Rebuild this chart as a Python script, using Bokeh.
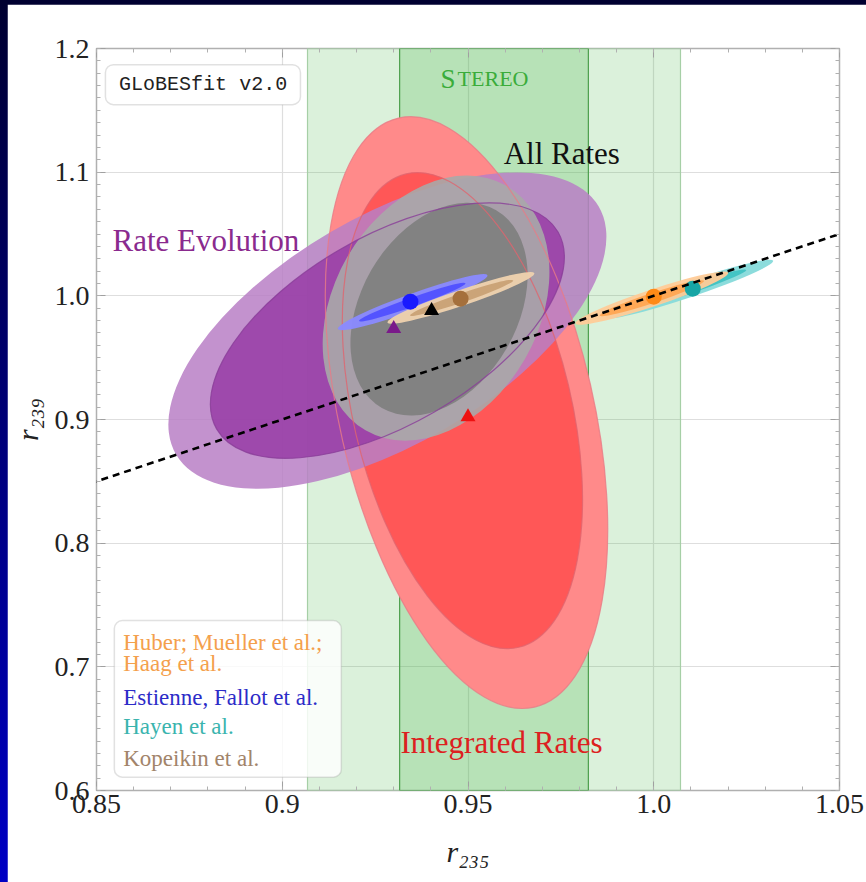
from bokeh.plotting import figure
from bokeh.models import (ColumnDataSource, FixedTicker, LinearAxis, Label,
                          BoxAnnotation, Slope, Range1d, GlobalInlineStyleSheet)
from bokeh.embed import file_html
from bokeh.resources import INLINE

# ---------------- data ----------------
x_ticks = [0.85, 0.9, 0.95, 1.0, 1.05]
x_tick_labels = ["0.85", "0.9", "0.95", "1.0", "1.05"]
y_ticks = [0.6, 0.7, 0.8, 0.9, 1.0, 1.1, 1.2]
y_tick_labels = ["0.6", "0.7", "0.8", "0.9", "1.0", "1.1", "1.2"]

# STEREO r235 measurement (central value, 1 sigma, 2 sigma half-widths)
stereo_center = 0.957
stereo_1sigma = 0.0254
stereo_2sigma = 0.0502

# large fit contours (outer / inner): centre, width, height (data units), angle (deg)
fit_names = ["Integrated Rates outer", "Integrated Rates inner",
             "Rate Evolution outer", "Rate Evolution inner",
             "All Rates outer", "All Rates inner"]
fit_x = [0.9496, 0.9485, 0.9283, 0.9283, 0.9414, 0.9422]
fit_y = [0.9056, 0.9072, 0.9719, 0.9719, 0.9901, 0.9892]
fit_w = [0.0684, 0.0587, 0.1319, 0.1061, 0.0760, 0.0615]
fit_h = [0.4891, 0.3937, 0.1840, 0.1520, 0.1657, 0.1264]
fit_angle = [13.0, 13.4, 30.4, 30.0, 60.0, 60.0]
fit_colors = ["#ff8a8a", "#ff5757", "#b87fc6", "#983ca6", "#a9a9a9", "#7f7f7f"]
fit_alpha = [1.0, 1.0, 0.85, 0.85, 0.9, 0.92]

# flux-model predictions (outer / inner ellipses)
model_names = ["Hayen outer", "Hayen inner", "Huber outer", "Huber inner",
               "Estienne outer", "Estienne inner", "Kopeikin outer", "Kopeikin inner"]
model_x = [1.0096, 1.0096, 0.9995, 0.9995, 0.9351, 0.9350, 0.9481, 0.9483]
model_y = [1.0054, 1.0054, 0.9981, 0.9981, 0.9949, 0.9949, 0.9983, 0.9983]
model_w = [0.0476, 0.0323, 0.0433, 0.0296, 0.0428, 0.0304, 0.0417, 0.0293]
model_h = [0.0129, 0.0073, 0.0137, 0.0081, 0.0137, 0.0073, 0.0129, 0.0073]
model_angle = [18.7, 18.7, 18.4, 18.4, 19.8, 19.5, 18.6, 18.8]
model_colors = ["#86dada", "#3fc2c2", "#ffcb98", "#ffa552",
                "#8a8aff", "#5050ff", "#efd2ae", "#c9a175"]

# best-fit / model central points
circle_x = [1.0105, 1.0, 0.9345, 0.948]
circle_y = [1.0058, 0.9993, 0.9953, 0.9977]
circle_colors = ["#17a5a5", "#ff8a16", "#1a1aff", "#a5703c"]
tri_x = [0.930, 0.9402, 0.950]
tri_y = [0.9735, 0.988, 0.902]
tri_colors = ["#7a1a8a", "#000000", "#ee1111"]

legend_labels = ["Huber; Mueller et al.;", "Haag et al.", "Estienne, Fallot et al.",
                 "Hayen et al.", "Kopeikin et al."]
legend_colors = ["#f4a04c", "#f4a04c", "#2c2cc8", "#3ab4ae", "#a2846a"]

# ---------------- figure ----------------
SERIF = "Liberation Serif"

p = figure(width=859, height=878, x_range=Range1d(0.85, 1.05), y_range=Range1d(0.6, 1.2),
           output_backend="svg", toolbar_location=None,
           min_border_left=89, min_border_right=27, min_border_top=44, min_border_bottom=92)
p.background_fill_color = "white"
p.border_fill_color = "white"
p.outline_line_color = "#b0b0b0"
p.outline_line_width = 1.5

p.stylesheets = [GlobalInlineStyleSheet(
    css="html, body { background: linear-gradient(180deg, #000030 0%, #0000c4 100%) !important; }"
        " body { padding: 4px 0 0 7px !important; margin: 0 !important; }")]

x_minor = [round(0.85 + 0.01 * i, 2) for i in range(21)]
y_minor = [round(0.6 + 0.01 * i, 2) for i in range(61)]
xt = FixedTicker(ticks=x_ticks, minor_ticks=x_minor)
yt = FixedTicker(ticks=y_ticks, minor_ticks=y_minor)

def style_axis(ax, show_labels):
    ax.axis_line_color = None
    ax.major_tick_in = 9
    ax.major_tick_out = 0
    ax.minor_tick_in = 4
    ax.minor_tick_out = 0
    ax.major_tick_line_color = "#a0a0a0"
    ax.minor_tick_line_color = "#b0b0b0"
    if show_labels:
        ax.major_label_text_font = SERIF
        ax.major_label_text_font_size = "28px"
        ax.major_label_text_color = "#222222"
        ax.axis_label_text_font = SERIF
        ax.axis_label_text_font_size = "30px"
        ax.axis_label_text_font_style = "italic"
        ax.axis_label_text_color = "#222222"
    else:
        ax.major_label_text_font_size = "10px"
        ax.major_label_standoff = 0

p.xaxis.ticker = xt
p.yaxis.ticker = yt
p.xaxis.major_label_overrides = {t: l for t, l in zip(x_ticks, x_tick_labels)}
p.yaxis.major_label_overrides = {t: l for t, l in zip(y_ticks, y_tick_labels)}
p.xaxis.axis_label = "r₂₃₅"
p.yaxis.axis_label = "r₂₃₉"
style_axis(p.xaxis[0], True)
style_axis(p.yaxis[0], True)
p.xaxis.axis_label_standoff = 19
p.yaxis.axis_label_standoff = 8
p.xaxis.major_label_standoff = 4
p.yaxis.major_label_standoff = 7

top_ax = LinearAxis(ticker=xt)
right_ax = LinearAxis(ticker=yt)
style_axis(top_ax, False)
style_axis(right_ax, False)
top_ax.major_label_overrides = {t: "" for t in x_ticks}
right_ax.major_label_overrides = {t: "" for t in y_ticks}
p.add_layout(top_ax, "above")
p.add_layout(right_ax, "right")

p.xgrid.ticker = FixedTicker(ticks=x_ticks)
p.ygrid.ticker = FixedTicker(ticks=y_ticks)
p.grid.grid_line_color = "#dedede"
p.grid.grid_line_width = 1.2

# STEREO bands
p.quad(left=[stereo_center - stereo_2sigma], right=[stereo_center + stereo_2sigma],
       bottom=[0.6], top=[1.2], fill_color="#4cb84c", fill_alpha=0.2,
       line_color="#a6cfa6", line_width=1.2)
p.quad(left=[stereo_center - stereo_1sigma], right=[stereo_center + stereo_1sigma],
       bottom=[0.6], top=[1.2], fill_color="#4cb84c", fill_alpha=0.25,
       line_color="#4c9e4c", line_width=1.2)

# big contours
fit_src = ColumnDataSource(dict(x=fit_x, y=fit_y, w=fit_w, h=fit_h, a=fit_angle,
                                c=fit_colors, al=fit_alpha, name=fit_names))
p.ellipse(x="x", y="y", width="w", height="h", angle="a", angle_units="deg",
          fill_color="c", fill_alpha="al", line_color=None, source=fit_src)

# contour outlines drawn over the filled regions
outline_idx = [0, 1, 3]
outline_colors = ["#e87a86", "#e0646e", "#8a3d98"]
out_src = ColumnDataSource(dict(x=[fit_x[i] for i in outline_idx], y=[fit_y[i] for i in outline_idx],
                                w=[fit_w[i] for i in outline_idx], h=[fit_h[i] for i in outline_idx],
                                a=[fit_angle[i] for i in outline_idx], c=outline_colors))
p.ellipse(x="x", y="y", width="w", height="h", angle="a", angle_units="deg",
          fill_color=None, line_color="c", line_width=1.2, line_alpha=0.8, source=out_src)

# model ellipses
mod_src = ColumnDataSource(dict(x=model_x, y=model_y, w=model_w, h=model_h, a=model_angle,
                                c=model_colors, name=model_names))
p.ellipse(x="x", y="y", width="w", height="h", angle="a", angle_units="deg",
          fill_color="c", fill_alpha=0.95, line_color=None, source=mod_src)

# r239 = r235 line
p.add_layout(Slope(gradient=1, y_intercept=0, line_color="black", line_width=2.6,
                   line_dash="7 5", level="glyph"))

# points
p.scatter(x=circle_x, y=circle_y, marker="circle", size=16, fill_color=circle_colors,
          line_color=None)
p.scatter(x=tri_x, y=tri_y, marker="triangle", size=15, fill_color=tri_colors,
          line_color=None)

# annotations
p.add_layout(BoxAnnotation(left=0.8524, right=0.9049, bottom=1.1546, top=1.1869,
                           fill_color="white", fill_alpha=1.0, line_color="#9a9a9a",
                           line_width=1.5, border_radius=8))
p.add_layout(Label(x=0.8787, y=1.1708, text="GLoBESfit v2.0", text_font="Liberation Mono",
                   text_font_size="20px", text_align="center", text_baseline="middle",
                   text_color="#222222"))

p.add_layout(Label(x=0.9426, y=1.1755, text="S", text_font=SERIF, text_font_size="27px",
                   text_color="#3aac3a", text_baseline="alphabetic"))
p.add_layout(Label(x=0.9472, y=1.1755, text="TEREO", text_font=SERIF, text_font_size="22px",
                   text_color="#3aac3a", text_baseline="alphabetic"))

p.add_layout(Label(x=0.9596, y=1.1150, text="All Rates", text_font=SERIF,
                   text_font_size="31px", text_color="#111111", text_baseline="alphabetic"))
p.add_layout(Label(x=0.8543, y=1.0447, text="Rate Evolution", text_font=SERIF,
                   text_font_size="31px", text_color="#8a2a8e", text_baseline="alphabetic"))
p.add_layout(Label(x=0.9318, y=0.6388, text="Integrated Rates", text_font=SERIF,
                   text_font_size="31px", text_color="#dd2020", text_baseline="alphabetic"))

p.add_layout(BoxAnnotation(left=0.8548, right=0.9159, bottom=0.6108, top=0.7374,
                           fill_color="white", fill_alpha=0.82, line_color="#9a9a9a",
                           line_width=1.5, border_radius=8))
legend_y = [0.7199, 0.7027, 0.6754, 0.6517, 0.6259]
for lab, col, yy in zip(legend_labels, legend_colors, legend_y):
    p.add_layout(Label(x=0.8572, y=yy, text=lab, text_font=SERIF, text_font_size="23px",
                       text_color=col, text_baseline="middle"))

open("out.html", "w").write(file_html(p, INLINE))
